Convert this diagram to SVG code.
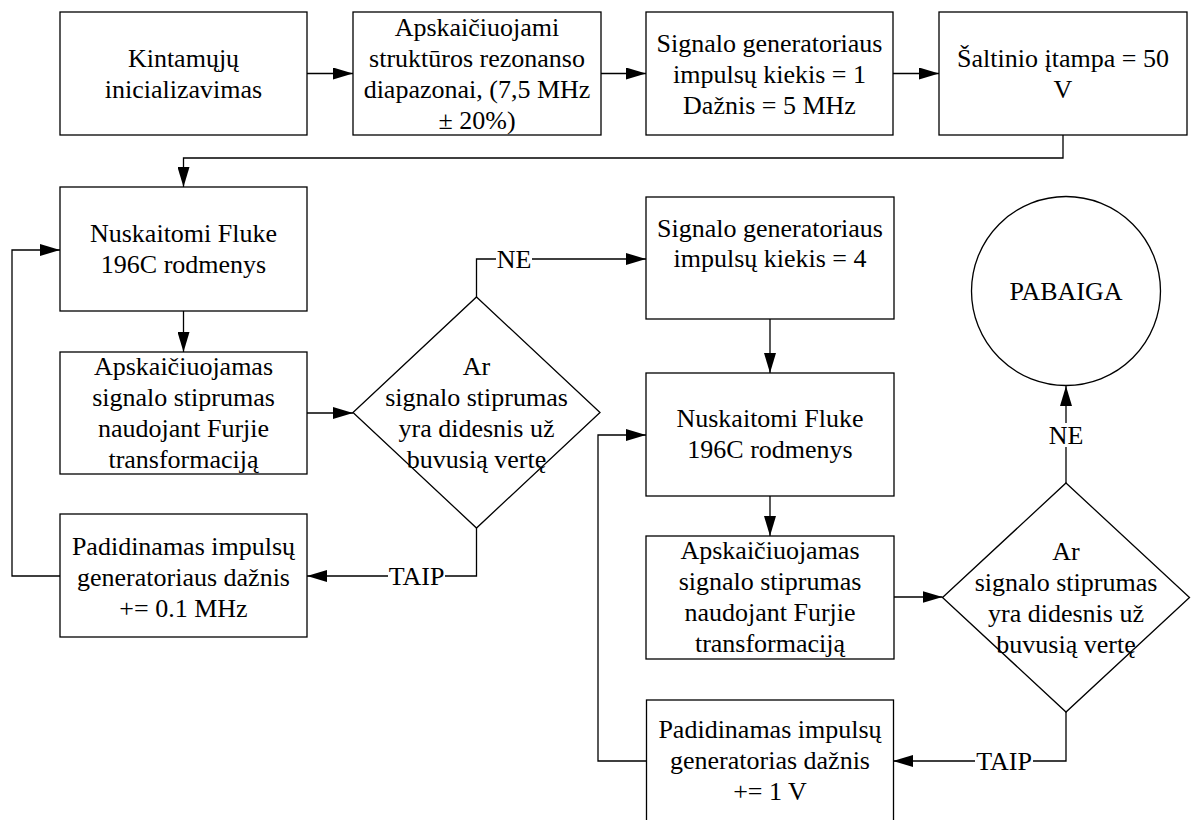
<svg xmlns="http://www.w3.org/2000/svg" width="1192" height="820" viewBox="0 0 1192 820">
  <style>
    .box { fill: #ffffff; stroke: #000000; stroke-width: 1.3; }
    .lbl { font-family: "Liberation Serif", "Times New Roman", serif; font-size: 26px; fill: #000000; text-anchor: middle; }
    .wire { fill: none; stroke: #000000; stroke-width: 1.3; }
    .arrow { marker-end: url(#head); }
    .gap { fill: #ffffff; stroke: none; }
  </style>
  <defs>
    <marker id="head" markerUnits="userSpaceOnUse" markerWidth="20" markerHeight="12" refX="20" refY="6" orient="auto">
      <path d="M0,0 L20,6 L0,12 z" fill="#000000"/>
    </marker>
  </defs>
  <rect width="1192" height="820" fill="#ffffff"/>

  <!-- connectors -->
  <g id="connectors">
    <path class="wire arrow" d="M307,73.5 H353"/>
    <path class="wire arrow" d="M601,73.5 H646"/>
    <path class="wire arrow" d="M893,73.5 H939"/>
    <path class="wire arrow" d="M1063,135 V158 H183.5 V187"/>
    <path class="wire arrow" d="M183.5,311 V352"/>
    <path class="wire arrow" d="M307,413 H353"/>
    <path class="wire arrow" d="M476.5,297 V259 H646"/>
    <path class="wire arrow" d="M476.5,528 V576 H307"/>
    <path class="wire arrow" d="M60,576 H12 V250 H60"/>
    <path class="wire arrow" d="M770,319 V373"/>
    <path class="wire arrow" d="M770,496 V536"/>
    <path class="wire arrow" d="M894,597 H942.5"/>
    <path class="wire arrow" d="M1066,483 V386"/>
    <path class="wire arrow" d="M1066,712 V761 H893"/>
    <path class="wire arrow" d="M646,761 H598 V435 H646"/>

    <!-- branch labels -->
    <g id="lbl-ne1">
      <rect class="gap" x="496" y="247" width="36" height="24"/>
      <text class="lbl" x="514" y="268">NE</text>
    </g>
    <g id="lbl-taip1">
      <rect class="gap" x="388" y="564" width="57" height="24"/>
      <text class="lbl" x="416.5" y="585">TAIP</text>
    </g>
    <g id="lbl-ne2">
      <rect class="gap" x="1048" y="423" width="36" height="24"/>
      <text class="lbl" x="1066" y="444">NE</text>
    </g>
    <g id="lbl-taip2">
      <rect class="gap" x="975" y="749" width="58" height="24"/>
      <text class="lbl" x="1004" y="770">TAIP</text>
    </g>
  </g>

  <!-- top row -->
  <g id="init">
    <rect class="box" x="60" y="12" width="247" height="123"/>
    <text class="lbl" x="183.5" y="67">Kintamųjų</text>
    <text class="lbl" x="183.5" y="98">inicializavimas</text>
  </g>
  <g id="ranges">
    <rect class="box" x="353" y="12" width="248" height="123"/>
    <text class="lbl" x="477" y="36">Apskaičiuojami</text>
    <text class="lbl" x="477" y="67">struktūros rezonanso</text>
    <text class="lbl" x="477" y="98">diapazonai, (7,5 MHz</text>
    <text class="lbl" x="477" y="129">± 20%)</text>
  </g>
  <g id="gen1">
    <rect class="box" x="646" y="12" width="247" height="123"/>
    <text class="lbl" x="769.5" y="51.5">Signalo generatoriaus</text>
    <text class="lbl" x="769.5" y="82.5">impulsų kiekis = 1</text>
    <text class="lbl" x="769.5" y="113.5">Dažnis = 5 MHz</text>
  </g>
  <g id="voltage">
    <rect class="box" x="939" y="12" width="248" height="123"/>
    <text class="lbl" x="1063" y="67">Šaltinio įtampa = 50</text>
    <text class="lbl" x="1063" y="98">V</text>
  </g>

  <!-- first loop -->
  <g id="read1">
    <rect class="box" x="60" y="187" width="247" height="124"/>
    <text class="lbl" x="183.5" y="242">Nuskaitomi Fluke</text>
    <text class="lbl" x="183.5" y="273">196C rodmenys</text>
  </g>
  <g id="calc1">
    <rect class="box" x="60" y="352" width="247" height="122"/>
    <text class="lbl" x="183.5" y="375">Apskaičiuojamas</text>
    <text class="lbl" x="183.5" y="406">signalo stiprumas</text>
    <text class="lbl" x="183.5" y="437">naudojant Furjie</text>
    <text class="lbl" x="183.5" y="468">transformaciją</text>
  </g>
  <g id="check1">
    <polygon class="box" points="476.5,297 600,412.5 476.5,528 353,412.5"/>
    <text class="lbl" x="476.5" y="374.5">Ar</text>
    <text class="lbl" x="476.5" y="405.5">signalo stiprumas</text>
    <text class="lbl" x="476.5" y="437">yra didesnis už</text>
    <text class="lbl" x="476.5" y="468">buvusią vertę</text>
  </g>
  <g id="inc1">
    <rect class="box" x="60" y="514" width="247" height="123"/>
    <text class="lbl" x="183.5" y="555">Padidinamas impulsų</text>
    <text class="lbl" x="183.5" y="586">generatoriaus dažnis</text>
    <text class="lbl" x="183.5" y="617">+= 0.1 MHz</text>
  </g>

  <!-- second loop -->
  <g id="gen4">
    <rect class="box" x="646" y="197" width="248" height="122"/>
    <text class="lbl" x="770" y="237">Signalo generatoriaus</text>
    <text class="lbl" x="770" y="267">impulsų kiekis = 4</text>
  </g>
  <g id="read2">
    <rect class="box" x="646" y="373" width="248" height="123"/>
    <text class="lbl" x="770" y="427">Nuskaitomi Fluke</text>
    <text class="lbl" x="770" y="458">196C rodmenys</text>
  </g>
  <g id="calc2">
    <rect class="box" x="646" y="536" width="248" height="123"/>
    <text class="lbl" x="770" y="559">Apskaičiuojamas</text>
    <text class="lbl" x="770" y="590">signalo stiprumas</text>
    <text class="lbl" x="770" y="621">naudojant Furjie</text>
    <text class="lbl" x="770" y="652">transformaciją</text>
  </g>
  <g id="check2">
    <polygon class="box" points="1066,483 1189.5,597.5 1066,712 942.5,597.5"/>
    <text class="lbl" x="1066" y="559.5">Ar</text>
    <text class="lbl" x="1066" y="590.5">signalo stiprumas</text>
    <text class="lbl" x="1066" y="622">yra didesnis už</text>
    <text class="lbl" x="1066" y="653">buvusią vertę</text>
  </g>
  <g id="inc2">
    <rect class="box" x="646.5" y="700" width="247" height="123"/>
    <text class="lbl" x="770" y="738">Padidinamas impulsų</text>
    <text class="lbl" x="770" y="769">generatorias dažnis</text>
    <text class="lbl" x="770" y="800">+= 1 V</text>
  </g>
  <g id="end">
    <circle class="box" cx="1066" cy="291" r="94.5"/>
    <text class="lbl" x="1066" y="300">PABAIGA</text>
  </g>
</svg>
